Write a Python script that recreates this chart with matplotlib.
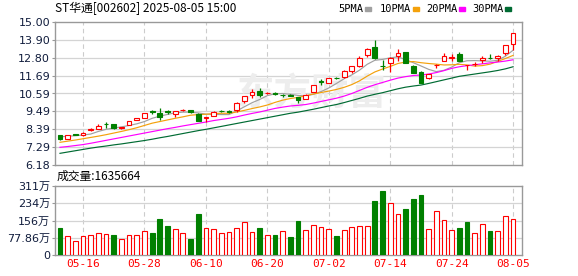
import matplotlib
matplotlib.use('Agg')
import matplotlib.pyplot as plt
from matplotlib.patches import Rectangle

# trading days shown on the chart
dates = ['05-13', '05-14', '05-15', '05-16', '05-19', '05-20', '05-21', '05-22', '05-23', '05-26',
         '05-27', '05-28', '05-29', '05-30', '06-03', '06-04', '06-05', '06-06', '06-09', '06-10',
         '06-11', '06-12', '06-13', '06-16', '06-17', '06-18', '06-19', '06-20', '06-23', '06-24',
         '06-25', '06-26', '06-27', '06-30', '07-01', '07-02', '07-03', '07-04', '07-07', '07-08',
         '07-09', '07-10', '07-11', '07-14', '07-15', '07-16', '07-17', '07-18', '07-21', '07-22',
         '07-23', '07-24', '07-25', '07-28', '07-29', '07-30', '07-31', '08-01', '08-04', '08-05']

opens = [8.04, 7.80, 8.08, 8.00, 8.34, 8.40, 8.70, 8.69, 8.45, 8.64,
         8.97, 9.10, 9.48, 9.40, 9.48, 9.30, 9.55, 9.58, 9.33, 9.10,
         9.21, 9.54, 9.48, 9.57, 10.15, 10.48, 10.76, 10.62, 10.61, 10.51,
         10.52, 10.38, 10.28, 10.68, 11.35, 11.24, 11.56, 11.59, 11.96, 12.27,
         12.95, 13.48, 12.28, 12.47, 12.88, 13.15, 12.28, 11.92, 11.53, 12.33,
         12.59, 12.80, 13.00, 12.33, 12.40, 12.64, 12.77, 12.76, 13.07, 13.62]
highs = [8.06, 8.02, 8.10, 8.20, 8.46, 8.73, 8.81, 8.72, 8.53, 8.90,
         9.08, 9.40, 9.55, 9.68, 9.58, 9.54, 9.62, 9.60, 9.36, 9.14,
         9.48, 9.60, 9.56, 10.04, 10.45, 10.85, 10.91, 10.68, 10.70, 10.56,
         10.54, 10.40, 10.54, 11.10, 11.50, 11.57, 11.60, 12.02, 12.29, 12.93,
         13.40, 13.87, 12.67, 12.82, 13.33, 13.18, 12.36, 11.98, 11.79, 12.38,
         13.07, 13.03, 13.17, 12.37, 12.52, 12.92, 13.00, 12.94, 13.60, 14.30]
lows = [7.75, 7.76, 8.02, 7.98, 8.30, 8.38, 8.44, 8.40, 8.40, 8.62,
        8.95, 9.08, 9.32, 8.97, 9.30, 9.12, 9.52, 9.41, 8.90, 8.86,
        9.18, 9.45, 9.38, 9.42, 10.00, 10.30, 10.40, 10.56, 10.47, 10.40,
        10.44, 10.02, 10.22, 10.66, 11.13, 11.22, 11.48, 11.57, 11.85, 12.25,
        12.85, 12.72, 12.06, 11.90, 12.61, 12.45, 11.83, 11.22, 11.50, 12.14,
        12.57, 12.61, 12.57, 12.04, 12.26, 12.45, 12.74, 12.59, 12.96, 13.27]
closes = [7.78, 8.00, 8.06, 8.18, 8.42, 8.58, 8.68, 8.46, 8.50, 8.89,
          9.05, 9.38, 9.46, 9.17, 9.46, 9.52, 9.60, 9.43, 8.92, 9.13,
          9.44, 9.52, 9.46, 10.02, 10.43, 10.68, 10.52, 10.65, 10.59, 10.49,
          10.46, 10.16, 10.52, 11.09, 11.33, 11.55, 11.54, 12.00, 12.27, 12.78,
          13.35, 12.78, 12.26, 12.78, 13.09, 12.47, 11.85, 11.24, 11.77, 12.36,
          12.90, 12.83, 12.60, 12.36, 12.43, 12.76, 12.75, 12.92, 13.58, 14.30]

ma5 = [7.92, 7.95, 7.99, 8.03, 8.09, 8.25, 8.38, 8.46, 8.53, 8.62,
       8.72, 8.86, 9.06, 9.19, 9.30, 9.40, 9.44, 9.44, 9.39, 9.32,
       9.30, 9.29, 9.29, 9.51, 9.77, 10.02, 10.22, 10.46, 10.57, 10.59,
       10.54, 10.47, 10.44, 10.54, 10.71, 10.93, 11.21, 11.50, 11.74, 12.03,
       12.39, 12.64, 12.69, 12.79, 12.85, 12.68, 12.49, 12.29, 12.08, 11.94,
       12.02, 12.22, 12.49, 12.61, 12.62, 12.60, 12.58, 12.64, 12.89, 13.26]
ma10 = [7.58, 7.65, 7.72, 7.80, 7.88, 7.96, 8.05, 8.15, 8.25, 8.36,
        8.48, 8.62, 8.76, 8.86, 8.96, 9.06, 9.15, 9.25, 9.29, 9.31,
        9.35, 9.37, 9.37, 9.45, 9.55, 9.66, 9.76, 9.88, 10.04, 10.18,
        10.28, 10.35, 10.45, 10.56, 10.65, 10.74, 10.84, 10.97, 11.14, 11.37,
        11.66, 11.92, 12.10, 12.26, 12.44, 12.53, 12.56, 12.49, 12.44, 12.40,
        12.35, 12.36, 12.39, 12.35, 12.28, 12.31, 12.40, 12.57, 12.75, 12.94]
ma20 = [7.27, 7.32, 7.38, 7.44, 7.52, 7.61, 7.70, 7.79, 7.88, 7.97,
        8.06, 8.15, 8.24, 8.33, 8.42, 8.50, 8.59, 8.67, 8.75, 8.83,
        8.92, 8.99, 9.06, 9.15, 9.26, 9.36, 9.45, 9.56, 9.67, 9.75,
        9.82, 9.86, 9.91, 10.00, 10.10, 10.20, 10.30, 10.43, 10.59, 10.78,
        10.97, 11.13, 11.27, 11.41, 11.54, 11.63, 11.70, 11.73, 11.79, 11.88,
        12.00, 12.14, 12.24, 12.31, 12.36, 12.42, 12.48, 12.53, 12.59, 12.67]
ma30 = [6.90, 6.98, 7.06, 7.14, 7.22, 7.29, 7.35, 7.42, 7.48, 7.55,
        7.62, 7.69, 7.77, 7.86, 7.94, 8.03, 8.12, 8.21, 8.30, 8.38,
        8.47, 8.56, 8.65, 8.74, 8.83, 8.92, 9.01, 9.10, 9.19, 9.28,
        9.37, 9.44, 9.53, 9.62, 9.72, 9.82, 9.91, 10.03, 10.16, 10.29,
        10.43, 10.54, 10.64, 10.76, 10.88, 10.98, 11.05, 11.11, 11.21, 11.32,
        11.43, 11.54, 11.65, 11.72, 11.79, 11.86, 11.93, 12.01, 12.11, 12.24]

volumes = [1230000, 860000, 630000, 860000, 900000, 990000, 950000, 900000, 720000, 900000,
           900000, 1080000, 990000, 1640000, 1320000, 1170000, 990000, 740000, 1860000, 1200000,
           1160000, 980000, 1020000, 1200000, 1490000, 1020000, 1200000, 890000, 890000, 1070000,
           800000, 1530000, 1110000, 1340000, 1250000, 1160000, 860000, 1110000, 1250000, 1290000,
           1290000, 2440000, 2890000, 2360000, 1850000, 2080000, 2530000, 2710000, 1160000, 1990000,
           1570000, 1130000, 1220000, 1500000, 980000, 1380000, 1080000, 1080000, 1750000, 1635664]
vol_dirs = 'grrrrrrgrrrrgggrrggrrrrrrrgrgrggrrrrgrrrrggrrgggrrrrggrrgrrr'

tick_dates = ['05-16', '05-28', '06-10', '06-20', '07-02', '07-14', '07-24', '08-05']
price_ticks = [6.18, 7.29, 8.39, 9.49, 10.59, 11.69, 12.80, 13.90, 15.00]
vol_ticks = [0, 778600, 1557200, 2335800, 3114400]
vol_tick_labels = ['0', '77.86万', '156万', '234万', '311万']

RED = '#ff0000'
GREEN = '#008000'
MA_COLORS = ['#a0a0a0', '#f4a10b', '#ff00ff', '#006b33']
GRID = '#d4d4d4'
SPINE = '#999999'
LABEL = '#101c3c'
FONT_MIX = ['DejaVu Sans', 'Noto Sans CJK SC']

fig = plt.figure(figsize=(5.78, 2.76), dpi=100)
W, H = 578, 276


def box(x0, y0, x1, y1):
    # pixel box (top-left origin) -> figure fraction rect
    return [x0 / W, 1 - y1 / H, (x1 - x0) / W, (y1 - y0) / H]


ax = fig.add_axes(box(55, 22, 522, 165))
axv = fig.add_axes(box(55, 186, 522, 255))

xs = list(range(len(dates)))
tick_pos = [dates.index(d) for d in tick_dates]

for a in (ax, axv):
    a.set_xlim(-0.65, 60.16)
    for s in a.spines.values():
        s.set_color(SPINE)
        s.set_linewidth(1.0)
    for p in tick_pos:
        a.axvline(p, color='#cccccc', lw=0.8, ls=(0, (4, 3)), zorder=0.5)
    a.tick_params(axis='y', length=2, color=SPINE, pad=1.5, labelsize=8, labelcolor=LABEL)
    a.tick_params(axis='x', length=0)

# price panel
ax.set_ylim(6.18, 15.00)
ax.set_yticks(price_ticks)
ax.set_yticklabels([f'{v:.2f}' for v in price_ticks])
for v in price_ticks[1:-1]:
    ax.axhline(v, color=GRID, lw=0.9, zorder=0.5)
ax.set_xticks([])

ax.text(0.55, 0.50, '东方财富', transform=ax.transAxes, ha='center', va='center',
        fontsize=27, fontweight='bold', color='#ededed', family='Noto Sans CJK SC',
        style='italic', zorder=0.6)

for i in xs:
    up = closes[i] >= opens[i]
    col = RED if up else GREEN
    lo_body, hi_body = min(opens[i], closes[i]), max(opens[i], closes[i])
    ax.vlines(i, lows[i], lo_body, color=col, lw=0.9, zorder=3)
    ax.vlines(i, hi_body, highs[i], color=col, lw=0.9, zorder=3)
    height = max(hi_body - lo_body, 0.012)
    ax.bar(i, height, bottom=lo_body, width=0.62,
           facecolor='white' if up else GREEN, edgecolor=col, linewidth=0.8, zorder=4)

for series, colr in zip([ma5, ma10, ma20, ma30], MA_COLORS):
    ax.plot(xs, series, color=colr, lw=0.85, zorder=2)

# volume panel
axv.set_ylim(0, 3114400)
axv.set_yticks(vol_ticks)
axv.set_yticklabels(vol_tick_labels, family=FONT_MIX)
for v in vol_ticks[1:-1]:
    axv.axhline(v, color=GRID, lw=0.9, zorder=0.5)
for i in xs:
    up = vol_dirs[i] == 'r'
    axv.bar(i, volumes[i], width=0.62, facecolor='white' if up else GREEN,
            edgecolor=RED if up else GREEN, linewidth=0.8, zorder=3)
axv.set_xticks(tick_pos)
axv.set_xticklabels(tick_dates, color=RED, fontsize=8, family='DejaVu Sans Mono')
axv.tick_params(axis='x', pad=3)

# header texts
fig.text(55 / W, 1 - 8 / H, 'ST华通[002602] 2025-08-05 15:00', fontsize=8.5,
         family=['Noto Sans CJK SC', 'DejaVu Sans'], va='center', ha='left')
fig.text(57 / W, 1 - 176 / H, '成交量:1635664', fontsize=8.5,
         family=['Noto Sans CJK SC', 'DejaVu Sans'], va='center', ha='left')

legend_items = [('5PMA', 338, 365), ('10PMA', 380, 413), ('20PMA', 426, 459), ('30PMA', 472, 505)]
for (name, tx, sx), colr in zip(legend_items, MA_COLORS):
    fig.text(tx / W, 1 - 9 / H, name, fontsize=7.5, family='DejaVu Sans Mono',
             va='center', ha='left')
    fig.patches.append(Rectangle((sx / W, 1 - 10.5 / H), 6 / W, 3.5 / H,
                                 transform=fig.transFigure, color=colr))

fig.savefig('out.png', dpi=100)
